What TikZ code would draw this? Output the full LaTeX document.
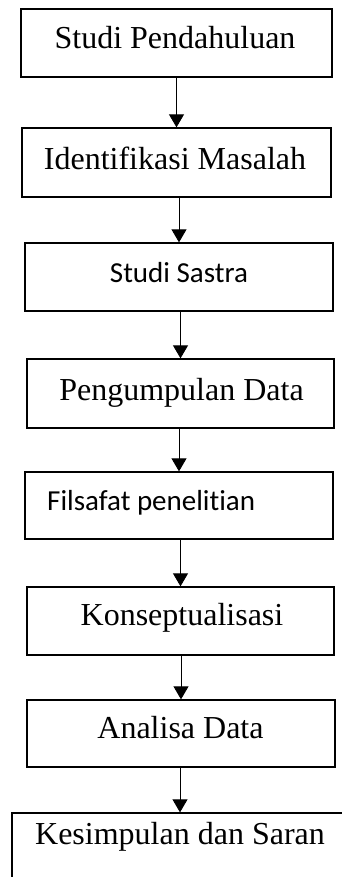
\documentclass[tikz,border=0pt]{standalone}
\usepackage{fontspec}
\setmainfont[Ligatures=NoCommon]{Liberation Serif}
\newfontfamily\calibrifont[Ligatures=NoCommon]{Carlito}
\usetikzlibrary{arrows.meta}

\tikzset{
  stepbox/.style={draw=black, line width=1.3pt, rectangle, inner sep=0pt},
  serlabel/.style={inner sep=0pt, anchor=base, font=\fontsize{32}{36}\selectfont},
  sanslabel/.style={inner sep=0pt, anchor=base, font=\calibrifont\fontsize{29}{34}\selectfont},
  flow/.style={draw=black, line width=0.9pt, -{Triangle[length=13pt,width=15pt]}}
}

\begin{document}
\begin{tikzpicture}[x=1pt, y=-1pt]
  \useasboundingbox (0,0) rectangle (342,877);
  \clip (0,0) rectangle (342,877);

  % boxes of the research steps
  \node[stepbox, minimum width=311pt, minimum height=68pt] (b1) at (176.5,43)   {};
  \node[stepbox, minimum width=309pt, minimum height=69pt] (b2) at (176.5,162.5) {};
  \node[stepbox, minimum width=308pt, minimum height=68pt] (b3) at (179,277)    {};
  \node[stepbox, minimum width=307pt, minimum height=69pt] (b4) at (180.5,393.5) {};
  \node[stepbox, minimum width=308pt, minimum height=67pt] (b5) at (179,505.5)  {};
  \node[stepbox, minimum width=307pt, minimum height=68pt] (b6) at (180.5,621)  {};
  \node[stepbox, minimum width=308pt, minimum height=67pt] (b7) at (181,733.5)  {};
  \node[stepbox, minimum width=336pt, minimum height=90pt] (b8) at (180,858)    {};

  % step titles
  \node[serlabel]  (t1) at (175,49)    {Studi Pendahuluan};
  \node[serlabel]  (t2) at (175,170)   {Identifikasi Masalah};
  \node[sanslabel] (t3) at (179,282)   {Studi Sastra};
  \node[serlabel]  (t4) at (181.5,400) {Pengumpulan Data};
  \node[sanslabel, anchor=base west] (t5) at (47,510) {Filsafat penelitian};
  \node[serlabel]  (t6) at (182,625)   {Konseptualisasi};
  \node[serlabel]  (t7) at (180.5,738) {Analisa Data};
  \node[serlabel]  (t8) at (180,844)   {Kesimpulan dan Saran};

  % arrows between consecutive steps
  \draw[flow] (b2.north |- b1.south) -- (b2.north);
  \draw[flow] (b3.north |- b2.south) -- (b3.north);
  \draw[flow] (b4.north |- b3.south) -- (b4.north);
  \draw[flow] (b5.north |- b4.south) -- (b5.north);
  \draw[flow] (b6.north |- b5.south) -- (b6.north);
  \draw[flow] (b7.north |- b6.south) -- (b7.north);
  \draw[flow] (b8.north |- b7.south) -- (b8.north);
\end{tikzpicture}
\end{document}
